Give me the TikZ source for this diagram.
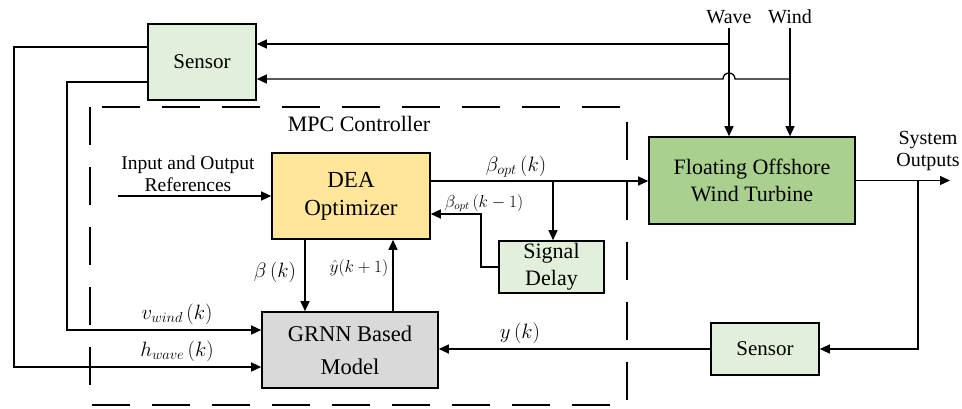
\documentclass[tikz,border=0pt]{standalone}
\usepackage{fontspec}
\setmainfont{Liberation Serif}
\usetikzlibrary{arrows.meta}
\definecolor{sgreen}{HTML}{E2EFDA}
\definecolor{dyellow}{HTML}{FFE699}
\definecolor{fgreen}{HTML}{A9D08E}
\definecolor{ggray}{HTML}{D9D9D9}
\begin{document}
\begin{tikzpicture}[x=1pt,y=-1pt,
  box/.style={draw, line width=1.6pt, align=center, inner sep=0pt, font=\fontsize{22}{27}\selectfont},
  conn/.style={line width=1.3pt},
  arr/.style={conn, -{Triangle[length=10pt,width=9pt]}},
  lbl/.style={font=\fontsize{20}{22}\selectfont, align=center, inner sep=0pt},
  mlbl/.style={font=\fontsize{21}{24}\selectfont, inner sep=0pt}]
\useasboundingbox (0,0) rectangle (962,408);
% dashed MPC box
\draw[line width=2pt, dash pattern=on 38pt off 22pt] (90,107) rectangle (627,405);
\node[font=\fontsize{22}{26}\selectfont] (mpc) at (359,124) {MPC Controller};
% blocks
\node[box, fill=sgreen, minimum width=108pt, minimum height=76pt, font=\fontsize{21}{26}\selectfont] (s1) at (202,62) {Sensor};
\node[box, fill=dyellow, minimum width=158pt, minimum height=86pt, font=\fontsize{23}{28}\selectfont] (dea) at (351,196) {DEA\\Optimizer};
\node[box, fill=sgreen, minimum width=105pt, minimum height=52pt] (delay) at (551.5,267) {Signal\\Delay};
\node[box, fill=fgreen, minimum width=206pt, minimum height=87pt] (fowt) at (752,180.5) {Floating Offshore\\Wind Turbine};
\node[box, fill=sgreen, minimum width=108pt, minimum height=52pt, font=\fontsize{21}{26}\selectfont] (s2) at (765,349) {Sensor};
\node[box, fill=ggray, minimum width=176pt, minimum height=76pt, font=\fontsize{22.5}{33}\selectfont] (grnn) at (350,350) {GRNN Based\\Model};
% wave and wind
\node[lbl] (wave) at (729,17) {Wave};
\node[lbl] (wind) at (790,17) {Wind};
\coordinate (wvtop) at (729,28);
\coordinate (wdtop) at (790,28);
\coordinate (wv1) at (729,44);
\coordinate (wd1) at (790,79);
\draw[arr] (wvtop) -- (wvtop |- fowt.north);
\draw[arr] (wdtop) -- (wdtop |- fowt.north);
\draw[arr] (wv1) -- (wv1 -| s1.east);
\draw[arr] (wd1) -- (735,79) arc[start angle=0,end angle=180,radius=6pt] -- (wd1 -| s1.east);
% sensor outputs into GRNN
\draw[arr] (s1.west |- 0,47) -- (14,47) -- (14,367) -- (grnn.west |- 0,367);
\draw[arr] (s1.west |- 0,82) -- (67,82) -- (67,330) -- (grnn.west |- 0,330);
\node[mlbl] (vw) at (177,314) {$v_{wind}\left(k\right)$};
\node[mlbl] (hw) at (177,351) {$h_{wave}\left(k\right)$};
% references
\node[lbl, font=\fontsize{19.5}{22}\selectfont] (refs) at (188,174) {Input and Output\\References};
\coordinate (refin) at (118,196);
\draw[arr] (refin) -- (refin -| dea.west);
% beta_opt
\coordinate (br) at (553,181);
\draw[arr] (dea.east |- br) -- (fowt.west |- br);
\draw[arr] (br) -- (br |- delay.north);
\node[mlbl] (bo) at (516,167) {$\beta_{opt}\left(k\right)$};
\coordinate (fb) at (481,214);
\draw[arr] (delay.west |- 0,267) -- (481,267) -- (fb) -- (fb -| dea.east);
\node[mlbl, font=\fontsize{16}{19}\selectfont] (bo1) at (484,203) {$\beta_{opt}\left(k-1\right)$};
% DEA <-> GRNN
\draw[arr] (dea.south -| 305,0) -- (grnn.north -| 305,0);
\draw[arr] (grnn.north -| 393,0) -- (dea.south -| 393,0);
\node[mlbl] (bk) at (275,272) {$\beta\left(k\right)$};
\node[mlbl, font=\fontsize{17}{20}\selectfont] (yh) at (359,268) {$\hat{y}(k+1)$};
% outputs
\coordinate (outend) at (950,180.5);
\draw[arr] (fowt.east) -- (outend);
\node[lbl] (sysout) at (928,151) {System\\Outputs};
\coordinate (ob) at (918,180.5);
\draw[arr] (ob) -- (918,349) -- (s2.east);
\draw[arr] (s2.west) -- (s2.west -| grnn.east);
\node[mlbl] (yk) at (520,333) {$y\left(k\right)$};
\end{tikzpicture}
\end{document}
